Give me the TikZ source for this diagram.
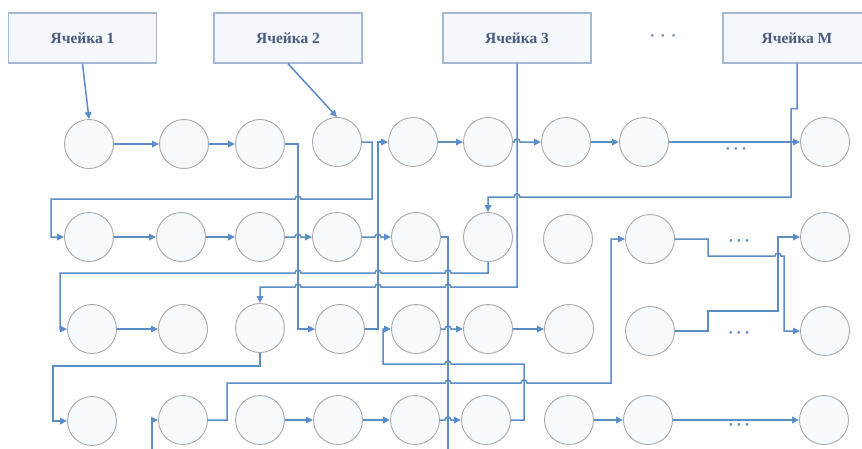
\documentclass[tikz,border=0pt]{standalone}
\usepackage{fontspec}
\setmainfont{Liberation Serif}
\usetikzlibrary{arrows.meta}
\definecolor{wireblue}{HTML}{5A8DC6}
\definecolor{ringgray}{HTML}{A8A8A8}
\definecolor{cellfill}{HTML}{F7FAFD}
\definecolor{boxedge}{HTML}{A3B8D2}
\definecolor{boxfill}{HTML}{F4F7FB}
\definecolor{boxtext}{HTML}{4A5B7D}
\definecolor{dotblue}{HTML}{6A8FC4}
\definecolor{topdots}{HTML}{8094B4}
\begin{document}
\begin{tikzpicture}[x=1pt,y=1pt,
  cell/.style={circle,draw=ringgray,fill=cellfill,line width=0.9pt,minimum size=49pt,inner sep=0pt},
  memcell/.style={rectangle,draw=boxedge,fill=boxfill,line width=1.3pt,minimum width=148pt,minimum height=50pt,inner sep=0pt,text=boxtext,font=\fontsize{15.5}{17}\selectfont\bfseries},
  wire/.style={draw=wireblue,line width=1.5pt},
  link/.style={wire,-{Triangle[length=7pt,width=6.5pt]}},
  gap/.style={text=dotblue,font=\fontsize{17}{19}\selectfont\bfseries,inner sep=0pt}
]
\useasboundingbox (0,0) rectangle (862,-448);
\clip (0,0) rectangle (862,-448);
\fill[white] (0,0) rectangle (862,-448);

% memory cells along the top
\node[memcell] (box1) at (82.5,-38) {Ячейка 1};
\node[memcell] (box2) at (288,-38) {Ячейка 2};
\node[memcell] (box3) at (517,-38) {Ячейка 3};
\node[memcell] (boxM) at (797,-38) {Ячейка M};
\node[gap,text=topdots] (topgap) at (663,-38) {·\kern5pt·\kern5pt·};

% row 1
\node[cell] (c11) at (89,-144) {};
\node[cell] (c12) at (184,-144) {};
\node[cell] (c13) at (260,-144) {};
\node[cell] (c14) at (337,-142) {};
\node[cell] (c15) at (413,-142) {};
\node[cell] (c16) at (488,-142) {};
\node[cell] (c17) at (566,-142) {};
\node[cell] (c18) at (644,-142) {};
\node[cell] (c19) at (825,-142) {};
% row 2
\node[cell] (c21) at (89,-237) {};
\node[cell] (c22) at (181,-237) {};
\node[cell] (c23) at (260,-237) {};
\node[cell] (c24) at (337,-237) {};
\node[cell] (c25) at (416,-237) {};
\node[cell] (c26) at (488,-237) {};
\node[cell] (c27) at (568,-239) {};
\node[cell] (c28) at (650,-239) {};
\node[cell] (c29) at (825,-237) {};
% row 3
\node[cell] (c31) at (92,-329) {};
\node[cell] (c32) at (183,-329) {};
\node[cell] (c33) at (260,-328) {};
\node[cell] (c34) at (340,-329) {};
\node[cell] (c35) at (416,-329) {};
\node[cell] (c36) at (488,-329) {};
\node[cell] (c37) at (569,-329) {};
\node[cell] (c38) at (650,-331) {};
\node[cell] (c39) at (825,-331) {};
% row 4
\node[cell] (c41) at (92,-421) {};
\node[cell] (c42) at (183,-420) {};
\node[cell] (c43) at (260,-420) {};
\node[cell] (c44) at (338,-420) {};
\node[cell] (c45) at (415,-420) {};
\node[cell] (c46) at (486,-420) {};
\node[cell] (c47) at (569,-420) {};
\node[cell] (c48) at (648,-420) {};
\node[cell] (c49) at (824,-420) {};

% gaps in the long rows
\node[gap] (gap1) at (736,-151) {·\kern2.5pt·\kern2.5pt·};
\node[gap] (gap2) at (739,-243) {·\kern2.5pt·\kern2.5pt·};
\node[gap] (gap3) at (739,-335) {·\kern2.5pt·\kern2.5pt·};
\node[gap] (gap4) at (739,-427) {·\kern2.5pt·\kern2.5pt·};

% entries from the memory cells
\draw[link] (box1.south) -- (c11.north);
\draw[link] (box2.south) -- (c14.north);
\draw[link] (box3.south) |- (451,-287) arc(0:180:3) -- (381,-287) arc(0:180:3)
  -- (301,-287) arc(0:180:3) -| (c33.north);
\draw[link] (boxM.south) -- ++(0,-45) -- ++(-6,0) |- (520,-197) arc(0:180:3) -| (c26.north);

% row 1 chain
\draw[link] (c11.east) -- (c12.west);
\draw[link] (c12.east) -- (c13.west);
\draw[link] (c15.east) -- (c16.west);
\draw[link] (c16.east) -- (514,-142) arc(180:0:3) -- (c17.west);
\draw[link] (c17.east) -- (c18.west);
\draw[link] (c18.east) -- (c19.west);

% row 2 chain
\draw[link] (c21.east) -- (c22.west);
\draw[link] (c22.east) -- (c23.west);
\draw[link] (c23.east) -- (295,-237) arc(180:0:3) -- (c24.west);
\draw[link] (c24.east) -- (375,-237) arc(180:0:3) -- (c25.west);

% row 3 chain
\draw[link] (c31.east) -- (c32.west);
\draw[link] (c35.east) -- (445,-329) arc(180:0:3) -- (c36.west);
\draw[link] (c36.east) -- (c37.west);

% row 4 chain
\draw[link] (c43.east) -- (c44.west);
\draw[link] (c44.east) -- (c45.west);
\draw[link] (c45.east) -- (445,-420) arc(180:0:3) -- (c46.west);
\draw[link] (c47.east) -- (c48.west);
\draw[link] (c48.east) -- (c49.west);

% cross-row jumps
\draw[link] (c13.east) -- (298,-144) |- (c34.west);
\draw[link] (c14.east) -| (372,-199) -- (301,-199) arc(0:180:3) -- (51,-199) |- (c21.west);
\draw[link] (c34.east) -- (378,-329) -- (378,-142) -- (c15.west);
\draw[wire] (c25.east) -- (448,-237) -- (448,-460);
\draw[link] (c26.south) |- (451,-273) arc(0:180:3) -- (381,-273) arc(0:180:3)
  -- (301,-273) arc(0:180:3) -- (60,-273) |- (c31.west);
\draw[link] (c33.south) |- (53,-366) |- (c41.west);
\draw[link] (152,-460) |- (c42.west);
\draw[link] (c42.east) -| (227,-383) -- (445,-383) arc(180:0:3) -- (521,-383) arc(180:0:3)
  -- (611,-383) |- (c28.west);
\draw[link] (c46.east) -| (524,-364) -- (451,-364) arc(0:180:3) -- (383,-364) |- (c35.west);
\draw[link] (c28.east) -- (708,-239) |- (775,-256) arc(180:0:3) -- (784,-256) |- (c39.west);
\draw[link] (c38.east) -- (708,-331) |- (778,-311) |- (c29.west);
\end{tikzpicture}
\end{document}
